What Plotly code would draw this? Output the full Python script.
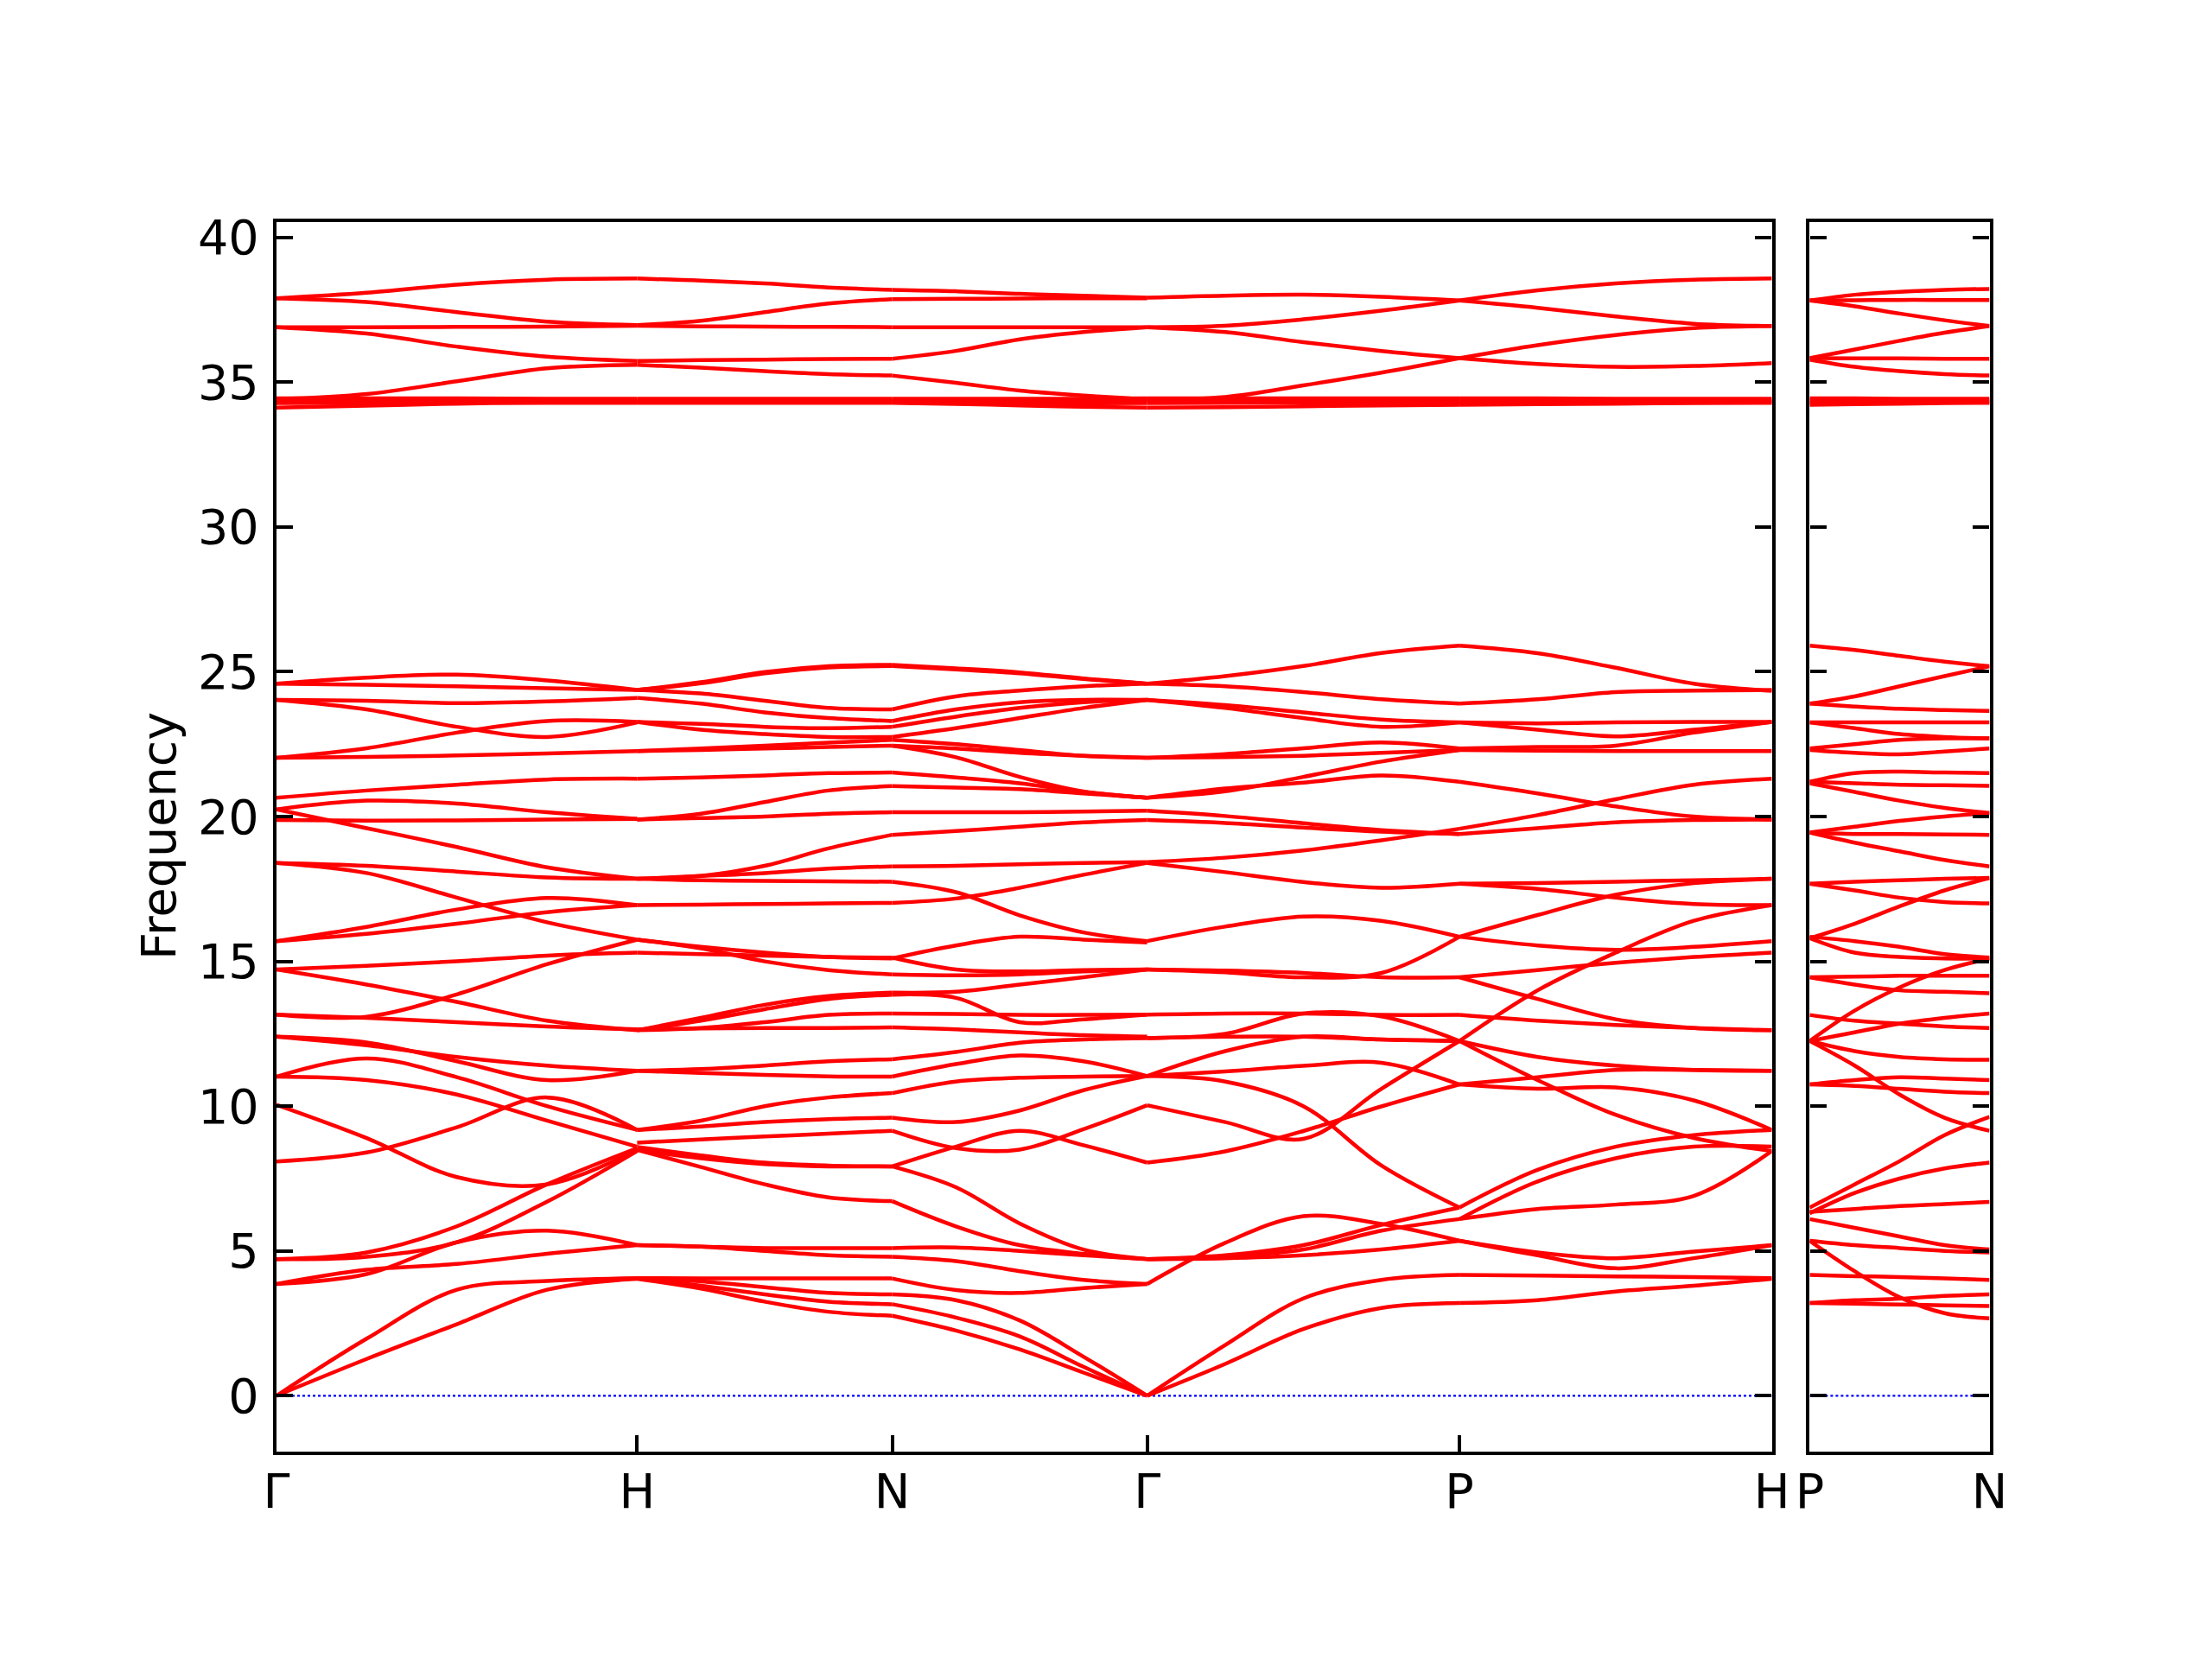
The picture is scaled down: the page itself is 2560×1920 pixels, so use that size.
import plotly.graph_objects as go

# ---------------- path / tick data ----------------
path_labels = ["Γ", "H", "N", "Γ", "P", "H"]
path_distances = [0.0, 1.0, 1.7071, 2.4142, 3.2802, 4.1463]
right_labels = ["P", "N"]
right_distances = [0.0, 0.5]
freq_ticks = [0, 5, 10, 15, 20, 25, 30, 35, 40]
sample_fractions = [0.0, 0.25, 0.5, 0.75, 1.0]

# ---------------- band values (frequency at 5 points per segment) ----------------
bands_G_H = [
    [37.90, 38.09, 38.37, 38.54, 38.58],
    [37.90, 37.77, 37.42, 37.09, 36.97],
    [36.90, 36.90, 36.91, 36.92, 36.95],
    [36.90, 36.68, 36.23, 35.88, 35.73],
    [34.41, 34.59, 35.03, 35.48, 35.60],
    [34.44, 34.44, 34.44, 34.43, 34.43],
    [34.36, 34.37, 34.37, 34.37, 34.37],
    [34.28, 34.29, 34.30, 34.30, 34.30],
    [34.12, 34.19, 34.26, 34.29, 34.29],
    [24.59, 24.80, 24.90, 24.70, 24.37],
    [24.59, 24.55, 24.50, 24.43, 24.37],
    [24.03, 24.00, 23.92, 23.98, 24.10],
    [24.03, 23.70, 23.10, 22.75, 23.25],
    [22.03, 22.36, 22.90, 23.30, 23.27],
    [22.03, 22.06, 22.11, 22.18, 22.26],
    [20.65, 20.90, 21.10, 21.28, 21.31],
    [20.25, 20.55, 20.45, 20.15, 19.92],
    [19.88, 19.86, 19.87, 19.90, 19.92],
    [20.25, 19.60, 18.95, 18.25, 17.85],
    [18.40, 18.30, 18.10, 17.90, 17.85],
    [18.40, 18.05, 17.20, 16.35, 15.75],
    [15.70, 16.19, 16.79, 17.19, 16.94],
    [15.70, 15.95, 16.30, 16.70, 16.94],
    [14.72, 14.85, 15.00, 15.20, 15.30],
    [14.72, 14.20, 13.60, 12.95, 12.62],
    [13.16, 13.09, 13.86, 14.90, 15.75],
    [13.16, 13.05, 12.90, 12.75, 12.65],
    [12.40, 12.20, 11.55, 10.90, 11.22],
    [12.40, 12.10, 11.70, 11.40, 11.22],
    [11.02, 11.65, 11.00, 10.00, 9.18],
    [11.02, 10.90, 10.40, 9.50, 8.60],
    [10.05, 8.90, 7.55, 7.30, 8.50],
    [8.09, 8.40, 9.27, 10.30, 9.18],
    [4.72, 4.95, 5.85, 7.30, 8.55],
    [4.72, 4.80, 5.30, 6.70, 8.45],
    [3.86, 4.20, 5.30, 5.70, 5.20],
    [3.86, 4.35, 4.55, 4.90, 5.20],
    [0.00, 1.97, 3.66, 3.96, 4.06],
    [0.00, 1.27, 2.47, 3.66, 4.04],
]

bands_H_N = [
    [38.58, 38.51, 38.41, 38.27, 38.19],
    [36.97, 37.12, 37.42, 37.72, 37.87],
    [36.95, 36.93, 36.92, 36.91, 36.90],
    [35.73, 35.76, 35.78, 35.80, 35.81],
    [35.60, 35.50, 35.38, 35.28, 35.23],
    [34.43, 34.43, 34.43, 34.43, 34.43],
    [34.37, 34.37, 34.37, 34.37, 34.37],
    [34.30, 34.30, 34.30, 34.30, 34.30],
    [34.29, 34.29, 34.29, 34.29, 34.29],
    [24.37, 24.64, 24.99, 25.19, 25.24],
    [24.37, 24.60, 24.95, 25.15, 25.20],
    [24.37, 24.25, 24.00, 23.75, 23.70],
    [24.10, 23.90, 23.60, 23.40, 23.30],
    [23.27, 23.20, 23.10, 23.05, 23.10],
    [23.27, 23.00, 22.85, 22.75, 22.75],
    [22.26, 22.35, 22.45, 22.55, 22.65],
    [22.26, 22.30, 22.35, 22.40, 22.45],
    [21.31, 21.35, 21.42, 21.50, 21.52],
    [19.90, 20.10, 20.50, 20.90, 21.05],
    [19.90, 19.95, 20.00, 20.10, 20.15],
    [17.85, 17.95, 18.30, 18.90, 19.37],
    [17.85, 17.95, 18.05, 18.20, 18.28],
    [17.85, 17.80, 17.78, 17.76, 17.75],
    [16.94, 16.96, 16.98, 17.00, 17.02],
    [15.75, 15.50, 15.30, 15.15, 15.10],
    [15.30, 15.25, 15.20, 15.15, 15.13],
    [15.75, 15.45, 15.00, 14.70, 14.55],
    [12.62, 13.05, 13.50, 13.80, 13.92],
    [12.62, 12.95, 13.35, 13.70, 13.85],
    [12.62, 12.70, 12.90, 13.15, 13.20],
    [12.65, 12.68, 12.70, 12.70, 12.72],
    [11.22, 11.28, 11.40, 11.55, 11.62],
    [11.22, 11.15, 11.08, 11.03, 11.02],
    [9.18, 9.50, 10.00, 10.30, 10.45],
    [9.18, 9.30, 9.45, 9.55, 9.60],
    [8.74, 8.85, 8.95, 9.05, 9.15],
    [8.59, 8.30, 8.05, 7.95, 7.92],
    [8.49, 8.20, 8.00, 7.92, 7.92],
    [8.49, 7.90, 7.30, 6.85, 6.72],
    [5.20, 5.15, 5.10, 5.10, 5.10],
    [5.20, 5.15, 5.00, 4.85, 4.80],
    [4.06, 4.05, 4.05, 4.05, 4.05],
    [4.06, 3.95, 3.75, 3.55, 3.50],
    [4.06, 3.80, 3.50, 3.25, 3.16],
    [4.04, 3.70, 3.25, 2.90, 2.76],
]

bands_N_G = [
    [38.19, 38.14, 38.05, 37.99, 37.92],
    [37.87, 37.88, 37.89, 37.90, 37.90],
    [36.90, 36.90, 36.90, 36.90, 36.90],
    [35.81, 36.08, 36.48, 36.73, 36.90],
    [35.23, 34.98, 34.71, 34.54, 34.41],
    [34.43, 34.43, 34.43, 34.43, 34.44],
    [34.37, 34.37, 34.36, 34.36, 34.36],
    [34.30, 34.29, 34.28, 34.27, 34.28],
    [34.29, 34.25, 34.20, 34.15, 34.12],
    [25.24, 25.12, 24.98, 24.77, 24.59],
    [25.20, 25.08, 24.95, 24.75, 24.59],
    [23.70, 24.15, 24.35, 24.50, 24.59],
    [23.30, 23.70, 23.95, 24.03, 24.03],
    [23.10, 23.45, 23.75, 23.95, 24.03],
    [22.75, 23.05, 23.40, 23.75, 24.03],
    [22.65, 22.50, 22.30, 22.10, 22.03],
    [22.45, 22.35, 22.20, 22.10, 22.03],
    [22.45, 22.05, 21.37, 20.87, 20.65],
    [21.52, 21.35, 21.15, 20.85, 20.65],
    [21.05, 21.00, 20.95, 20.80, 20.65],
    [20.15, 20.15, 20.15, 20.17, 20.20],
    [19.37, 19.50, 19.65, 19.80, 19.88],
    [18.28, 18.30, 18.35, 18.40, 18.43],
    [17.75, 17.39, 16.59, 16.00, 15.70],
    [17.02, 17.17, 17.54, 17.99, 18.40],
    [15.10, 15.55, 15.85, 15.75, 15.65],
    [15.13, 14.72, 14.65, 14.70, 14.72],
    [14.55, 14.52, 14.55, 14.65, 14.72],
    [13.92, 13.95, 14.20, 14.45, 14.72],
    [13.85, 13.74, 12.90, 13.00, 13.16],
    [13.20, 13.18, 13.15, 13.15, 13.16],
    [12.72, 12.65, 12.55, 12.45, 12.40],
    [11.62, 11.87, 12.19, 12.30, 12.35],
    [11.02, 11.45, 11.75, 11.55, 11.04],
    [10.45, 10.85, 10.98, 11.02, 11.04],
    [9.60, 9.45, 9.85, 10.55, 11.04],
    [9.15, 8.55, 8.50, 9.20, 10.03],
    [7.92, 8.60, 9.15, 8.65, 8.05],
    [7.92, 7.20, 5.95, 5.05, 4.72],
    [6.72, 5.85, 5.20, 4.90, 4.72],
    [5.10, 5.12, 5.00, 4.85, 4.72],
    [4.80, 4.65, 4.30, 4.00, 3.86],
    [4.05, 3.65, 3.55, 3.72, 3.86],
    [3.50, 3.30, 2.60, 1.35, 0.00],
    [3.16, 2.70, 2.05, 1.00, 0.00],
    [2.76, 2.25, 1.60, 0.80, 0.00],
]

bands_G_P = [
    [37.92, 37.99, 38.02, 37.95, 37.82],
    [36.90, 36.95, 37.17, 37.47, 37.82],
    [36.90, 36.73, 36.38, 36.08, 35.83],
    [34.41, 34.49, 34.89, 35.33, 35.83],
    [34.44, 34.44, 34.44, 34.44, 34.44],
    [34.36, 34.36, 34.37, 34.37, 34.37],
    [34.28, 34.29, 34.30, 34.30, 34.30],
    [34.12, 34.14, 34.17, 34.20, 34.22],
    [24.59, 24.85, 25.20, 25.65, 25.90],
    [24.59, 24.50, 24.30, 24.05, 23.90],
    [24.03, 23.75, 23.40, 23.10, 23.25],
    [24.03, 23.85, 23.60, 23.35, 23.25],
    [22.03, 22.16, 22.36, 22.56, 22.35],
    [22.03, 22.05, 22.10, 22.20, 22.30],
    [20.65, 20.97, 21.17, 21.42, 21.20],
    [20.65, 20.87, 21.37, 21.90, 22.30],
    [20.20, 20.02, 19.77, 19.53, 19.40],
    [19.88, 19.78, 19.62, 19.48, 19.40],
    [18.43, 18.58, 18.83, 19.18, 19.58],
    [18.40, 18.08, 17.74, 17.54, 17.68],
    [15.70, 16.20, 16.55, 16.40, 15.85],
    [14.72, 14.62, 14.45, 14.60, 15.85],
    [14.72, 14.68, 14.60, 14.45, 14.45],
    [13.16, 13.20, 13.20, 13.15, 13.15],
    [12.35, 12.50, 13.20, 13.10, 12.25],
    [12.35, 12.40, 12.40, 12.30, 12.25],
    [11.04, 11.90, 12.40, 12.30, 12.25],
    [11.04, 11.20, 11.39, 11.50, 10.75],
    [11.04, 10.85, 10.00, 7.95, 6.50],
    [10.03, 9.45, 8.87, 10.60, 12.25],
    [8.05, 8.44, 9.14, 9.99, 10.75],
    [4.72, 4.85, 5.20, 5.90, 6.50],
    [4.72, 4.80, 5.05, 5.70, 6.10],
    [3.86, 5.28, 6.20, 5.93, 5.35],
    [4.72, 4.75, 4.85, 5.05, 5.35],
    [0.00, 1.75, 3.36, 4.00, 4.17],
    [0.00, 1.10, 2.30, 3.03, 3.20],
]

bands_P_H = [
    [37.82, 38.17, 38.41, 38.54, 38.58],
    [37.82, 37.57, 37.27, 37.02, 36.94],
    [35.83, 36.28, 36.63, 36.87, 36.94],
    [35.83, 35.63, 35.53, 35.56, 35.66],
    [34.44, 34.44, 34.43, 34.43, 34.43],
    [34.37, 34.37, 34.37, 34.37, 34.37],
    [34.30, 34.30, 34.30, 34.30, 34.30],
    [34.22, 34.24, 34.26, 34.28, 34.29],
    [25.90, 25.64, 25.14, 24.59, 24.34],
    [23.90, 24.05, 24.30, 24.35, 24.37],
    [23.25, 23.00, 22.77, 23.00, 23.27],
    [23.25, 23.22, 23.25, 23.27, 23.27],
    [22.35, 22.40, 22.45, 22.90, 23.27],
    [22.30, 22.28, 22.26, 22.26, 22.26],
    [21.20, 20.80, 20.35, 20.00, 19.90],
    [19.58, 20.05, 20.60, 21.10, 21.31],
    [19.40, 19.60, 19.80, 19.88, 19.90],
    [17.68, 17.70, 17.75, 17.80, 17.85],
    [17.68, 17.50, 17.20, 16.98, 16.94],
    [15.85, 16.60, 17.30, 17.70, 17.85],
    [15.85, 15.55, 15.40, 15.50, 15.70],
    [14.45, 13.70, 13.00, 12.70, 12.62],
    [14.45, 14.70, 14.95, 15.15, 15.30],
    [12.25, 14.00, 15.30, 16.40, 16.94],
    [13.15, 12.95, 12.80, 12.70, 12.62],
    [12.25, 11.70, 11.40, 11.25, 11.22],
    [10.75, 11.00, 11.25, 11.25, 11.22],
    [10.75, 10.60, 10.65, 10.20, 9.18],
    [12.25, 10.90, 9.70, 8.90, 8.45],
    [6.50, 7.80, 8.60, 9.00, 9.18],
    [6.10, 7.40, 8.20, 8.60, 8.60],
    [6.10, 6.45, 6.60, 6.90, 8.45],
    [5.35, 4.95, 4.75, 4.98, 5.20],
    [5.35, 4.85, 4.40, 4.75, 5.20],
    [4.17, 4.15, 4.12, 4.10, 4.06],
    [3.20, 3.30, 3.60, 3.80, 4.04],
]

bands_P_N = [
    [37.82, 38.02, 38.12, 38.19, 38.22],
    [37.82, 37.83, 37.84, 37.84, 37.84],
    [37.82, 37.62, 37.37, 37.14, 36.94],
    [35.83, 36.13, 36.43, 36.71, 36.94],
    [35.83, 35.82, 35.82, 35.81, 35.81],
    [35.78, 35.53, 35.38, 35.28, 35.23],
    [34.44, 34.44, 34.43, 34.43, 34.43],
    [34.37, 34.37, 34.37, 34.37, 34.37],
    [34.30, 34.30, 34.30, 34.30, 34.30],
    [34.22, 34.24, 34.26, 34.28, 34.29],
    [25.90, 25.75, 25.55, 25.35, 25.19],
    [23.90, 24.15, 24.50, 24.85, 25.19],
    [23.90, 23.80, 23.72, 23.68, 23.65],
    [23.25, 23.25, 23.25, 23.25, 23.25],
    [23.25, 23.05, 22.85, 22.75, 22.70],
    [22.35, 22.50, 22.65, 22.70, 22.70],
    [22.30, 22.20, 22.15, 22.25, 22.35],
    [21.20, 21.50, 21.55, 21.52, 21.50],
    [21.20, 21.15, 21.10, 21.08, 21.06],
    [21.15, 20.85, 20.55, 20.30, 20.12],
    [19.45, 19.65, 19.85, 20.00, 20.12],
    [19.45, 19.40, 19.40, 19.38, 19.37],
    [19.45, 19.10, 18.80, 18.50, 18.28],
    [17.68, 17.75, 17.80, 17.85, 17.88],
    [17.68, 17.45, 17.20, 17.05, 17.00],
    [15.80, 16.30, 16.90, 17.45, 17.88],
    [15.85, 15.70, 15.50, 15.25, 15.13],
    [15.80, 15.30, 15.15, 15.10, 15.10],
    [12.25, 13.30, 14.10, 14.70, 15.10],
    [14.45, 14.20, 14.00, 13.95, 13.90],
    [14.45, 14.47, 14.50, 14.50, 14.50],
    [13.15, 12.95, 12.85, 12.75, 12.70],
    [12.25, 12.55, 12.85, 13.05, 13.20],
    [12.25, 11.90, 11.70, 11.62, 11.60],
    [12.25, 11.40, 10.40, 9.60, 9.15],
    [10.75, 10.90, 11.00, 10.95, 10.90],
    [10.75, 10.70, 10.60, 10.50, 10.45],
    [6.50, 7.30, 8.10, 9.00, 9.63],
    [6.30, 7.00, 7.50, 7.85, 8.05],
    [6.35, 6.45, 6.55, 6.62, 6.69],
    [6.10, 5.80, 5.50, 5.20, 5.05],
    [5.35, 5.20, 5.10, 5.00, 4.95],
    [5.35, 4.30, 3.40, 2.85, 2.67],
    [4.17, 4.13, 4.10, 4.05, 4.00],
    [3.20, 3.30, 3.35, 3.45, 3.50],
    [3.20, 3.18, 3.15, 3.12, 3.10],
]

left_segments = [bands_G_H, bands_H_N, bands_N_G, bands_G_P, bands_P_H]
right_segments = [bands_P_N]

# ---------------- figure geometry (page has 8px body margin) ----------------
OFF = 8
W, H = 2560 - 2 * OFF, 1920 - 2 * OFF
def dx(px):
    return (px - OFF) / W
def dy(py):
    return 1 - (py - OFF) / H

FONT = "DejaVu Sans"
FS = 55.6
LINE_W = 4.4
RED_W = 4.5

fig = go.Figure()

def add_segments(segments, dists, xa, ya):
    X, Y = [], []
    for i, bands in enumerate(segments):
        x0, x1 = dists[i], dists[i + 1]
        xs = [x0 + f * (x1 - x0) for f in sample_fractions]
        for b in bands:
            X += xs + [None]
            Y += list(b) + [None]
    fig.add_trace(go.Scatter(
        x=X, y=Y, mode="lines", xaxis=xa, yaxis=ya,
        line=dict(color="#ff0000", width=RED_W, shape="spline", smoothing=1.0),
        hoverinfo="skip", showlegend=False))

# zero lines (blue dotted)
fig.add_trace(go.Scatter(x=[path_distances[0], path_distances[-1]], y=[0, 0], mode="lines",
                         xaxis="x", yaxis="y", line=dict(color="#0000ff", width=2.2, dash="dot"),
                         hoverinfo="skip", showlegend=False))
fig.add_trace(go.Scatter(x=[right_distances[0], right_distances[-1]], y=[0, 0], mode="lines",
                         xaxis="x2", yaxis="y2", line=dict(color="#0000ff", width=2.2, dash="dot"),
                         hoverinfo="skip", showlegend=False))

add_segments(left_segments, path_distances, "x", "y")
add_segments(right_segments, right_distances, "x2", "y2")

yr = [-1.93, 40.53]
ydom = [dy(1680), dy(257)]

common_axis = dict(showgrid=False, zeroline=False, showline=True, linecolor="black",
                   linewidth=LINE_W, ticks="inside", ticklen=19, tickwidth=LINE_W,
                   tickcolor="black", automargin=False,
                   tickfont=dict(family=FONT, size=FS, color="black"))

fig.update_layout(
    template="none",
    width=W, height=H, margin=dict(l=0, r=0, t=0, b=0, pad=0),
    paper_bgcolor="white", plot_bgcolor="white",
    font=dict(family=FONT, size=FS, color="black"),
    xaxis=dict(domain=[dx(320), dx(2050.6)], range=[path_distances[0], path_distances[-1]],
               tickmode="array", tickvals=path_distances, ticktext=path_labels,
               mirror=True, anchor="y", ticklabelstandoff=-6, **common_axis),
    yaxis=dict(domain=ydom, range=yr, tickmode="array", tickvals=freq_ticks,
               ticktext=[str(v) for v in freq_ticks], mirror="ticks", anchor="x",
               ticklabelstandoff=5, **common_axis),
    xaxis2=dict(domain=[dx(2094.4), dx(2302.5)], range=[right_distances[0], right_distances[-1]],
                tickmode="array", tickvals=right_distances, ticktext=right_labels,
                mirror=True, anchor="y2", ticklabelstandoff=-6, **common_axis),
    yaxis2=dict(domain=ydom, range=yr, tickmode="array", tickvals=freq_ticks,
                showticklabels=False, mirror="ticks", anchor="x2", **common_axis),
    annotations=[dict(text="Frequency", x=dx(183), y=dy(968), xref="paper", yref="paper",
                      textangle=-90, showarrow=False, xanchor="center", yanchor="middle",
                      font=dict(family=FONT, size=FS, color="black"))],
)

fig.write_html("out.html")
